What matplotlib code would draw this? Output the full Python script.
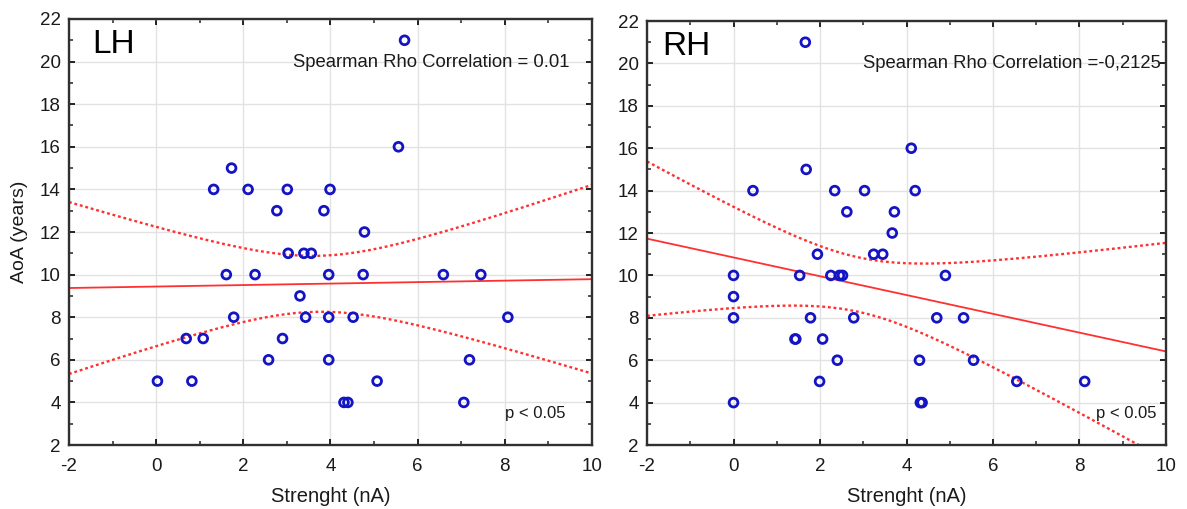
import numpy as np
import matplotlib
matplotlib.use("Agg")
import matplotlib.pyplot as plt
from matplotlib.ticker import MultipleLocator

plt.rcParams['font.family'] = ['Liberation Sans', 'DejaVu Sans']
plt.rcParams['axes.unicode_minus'] = False

# LH: strength (nA) vs age of acquisition (years)
lh_x = [5.70, 5.56, 1.73, 1.32, 2.11, 3.01, 3.99, 2.77, 3.85, 4.78,
        3.03, 3.39, 3.56,
        1.61, 2.27, 3.96, 4.75, 6.59, 7.45,
        3.30,
        1.78, 3.43, 3.96, 4.52, 8.07,
        0.69, 1.08, 2.90,
        2.58, 3.96, 7.19,
        0.03, 0.82, 5.07,
        4.31, 4.40, 7.06]
lh_y = [21, 16, 15, 14, 14, 14, 14, 13, 13, 12,
        11, 11, 11,
        10, 10, 10, 10, 10, 10,
        9,
        8, 8, 8, 8, 8,
        7, 7, 7,
        6, 6, 6,
        5, 5, 5,
        4, 4, 4]

# RH
rh_x = [1.66, 4.11, 1.68, 0.45, 2.34, 3.03, 4.20, 2.62, 3.72, 3.67,
        1.94, 3.24, 3.45,
        0.00, 1.53, 2.25, 2.45, 2.52, 4.90,
        0.00,
        0.00, 1.78, 2.78, 4.70, 5.32,
        1.42, 1.44, 2.06,
        2.40, 4.30, 5.55,
        1.99, 6.55, 8.12,
        0.00, 4.32, 4.36]
rh_y = [21, 16, 15, 14, 14, 14, 14, 13, 13, 12,
        11, 11, 11,
        10, 10, 10, 10, 10, 10,
        9,
        8, 8, 8, 8, 8,
        7, 7, 7,
        6, 6, 6,
        5, 5, 5,
        4, 4, 4]

panels = [("LH", lh_x, lh_y, "Spearman Rho Correlation = 0.01"),
          ("RH", rh_x, rh_y, "Spearman Rho Correlation =-0,2125")]

T975 = 2.030  # t quantile, 35 dof

fig = plt.figure(figsize=(11.87, 5.09), dpi=100)
boxes = [[0.0581, 0.1257, 0.4406, 0.8370],
         [0.5451, 0.1257, 0.4372, 0.8330]]
# per panel: name x, rho right x, p right x
spots = [(0.044, 0.958, 0.950), (0.029, 0.990, 0.981)]

for (name, xs, ys, rho), box, (nx, rx, px) in zip(panels, boxes, spots):
    ax = fig.add_axes(box)
    x = np.array(xs)
    y = np.array(ys)
    n = len(x)
    b, a = np.polyfit(x, y, 1)
    resid = y - (a + b * x)
    s = np.sqrt(np.sum(resid ** 2) / (n - 2))
    sxx = np.sum((x - x.mean()) ** 2)
    xx = np.linspace(-2, 10, 200)
    yy = a + b * xx
    half = T975 * s * np.sqrt(1 / n + (xx - x.mean()) ** 2 / sxx)

    ax.grid(True, color='#e2e2e2', lw=1.0, zorder=0)
    ax.plot(xx, yy, color='#ff3030', lw=1.3, zorder=2)
    ax.plot(xx, yy + half, color='#ff3030', lw=1.7, ls=(0, (1.2, 1.2)), zorder=2)
    ax.plot(xx, yy - half, color='#ff3030', lw=1.7, ls=(0, (1.2, 1.2)), zorder=2)
    ax.scatter(x, y, s=40, facecolors='none', edgecolors='#1414c4', linewidths=2.0, zorder=3)

    ax.set_xlim(-2, 10)
    ax.set_ylim(2, 22)
    ax.xaxis.set_major_locator(MultipleLocator(2))
    ax.xaxis.set_minor_locator(MultipleLocator(1))
    ax.yaxis.set_major_locator(MultipleLocator(2))
    ax.yaxis.set_minor_locator(MultipleLocator(1))
    ax.tick_params(which='both', direction='in', top=True, right=True,
                   color='#222222', labelsize=13.5, labelcolor='#1a1a1a')
    ax.tick_params(axis='x', pad=9)
    ax.tick_params(axis='y', pad=6)
    ax.tick_params(which='major', length=4, width=1.4)
    ax.tick_params(which='minor', length=3, width=1.1)
    for sp in ax.spines.values():
        sp.set_linewidth(1.7)
        sp.set_color('#303030')

    ax.set_xlabel("Strenght (nA)", fontsize=14.5, color='#1a1a1a')
    ax.xaxis.set_label_coords(0.5, -0.098)
    if name == "LH":
        ax.set_ylabel("AoA (years)", fontsize=14, color='#1a1a1a')
        ax.yaxis.set_label_coords(-0.078, 0.5)
    ax.text(nx, 0.92, name, transform=ax.transAxes, fontsize=24,
            va='baseline', ha='left', color='black')
    ax.text(rx, 0.899, rho, transform=ax.transAxes, fontsize=13.3,
            va='center', ha='right', color='#1a1a1a')
    ax.text(px, 0.075, "p < 0.05", transform=ax.transAxes, fontsize=12,
            va='center', ha='right', color='#1a1a1a')

fig.savefig("out.png", dpi=100)
